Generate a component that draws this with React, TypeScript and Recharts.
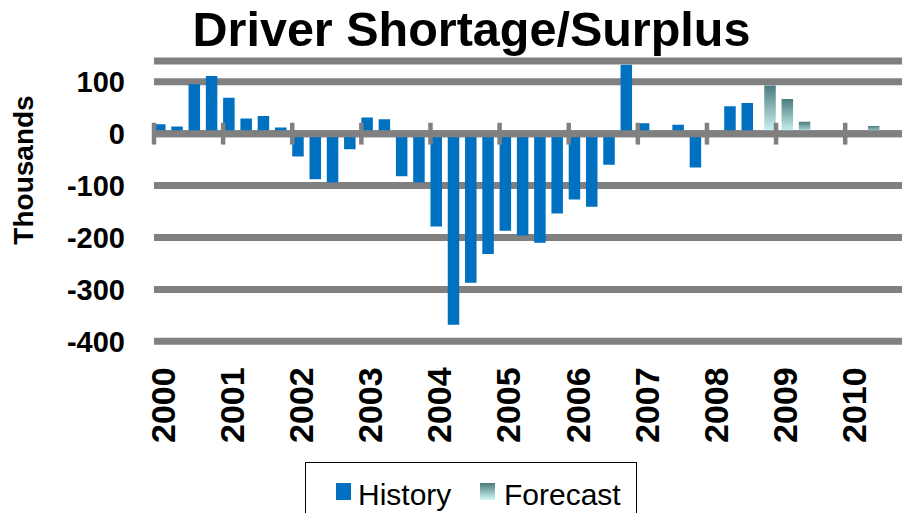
import { BarChart, Bar, XAxis, YAxis, CartesianGrid, ReferenceLine, Legend } from "recharts";

// quarterly categories, 2000 Q1 .. 2010 Q4
const quarters = [
  "2000 Q1", "2000 Q2", "2000 Q3", "2000 Q4",
  "2001 Q1", "2001 Q2", "2001 Q3", "2001 Q4",
  "2002 Q1", "2002 Q2", "2002 Q3", "2002 Q4",
  "2003 Q1", "2003 Q2", "2003 Q3", "2003 Q4",
  "2004 Q1", "2004 Q2", "2004 Q3", "2004 Q4",
  "2005 Q1", "2005 Q2", "2005 Q3", "2005 Q4",
  "2006 Q1", "2006 Q2", "2006 Q3", "2006 Q4",
  "2007 Q1", "2007 Q2", "2007 Q3", "2007 Q4",
  "2008 Q1", "2008 Q2", "2008 Q3", "2008 Q4",
  "2009 Q1", "2009 Q2", "2009 Q3", "2009 Q4",
  "2010 Q1", "2010 Q2", "2010 Q3", "2010 Q4",
];

// thousands of drivers
const historyValues = [
  18, 14, 95, 111,
  69, 29, 34, 12,
  -44, -88, -94, -30,
  31, 28, -82, -94,
  -179, -368, -287, -232,
  -187, -196, -210, -154,
  -127, -141, -60, 133,
  20, 3, 17, -65,
  3, 53, 59, null,
  null, null, null, null,
  null, null, null, null,
];

const forecastValues = [
  null, null, null, null,
  null, null, null, null,
  null, null, null, null,
  null, null, null, null,
  null, null, null, null,
  null, null, null, null,
  null, null, null, null,
  null, null, null, null,
  null, null, null, 93,
  67, 23, 3, 2,
  2, 15, null, null,
];

const seriesOrder = ["history", "forecast"];
const yTicks = [100, 0, -100, -200, -300, -400];
const yearStarts = quarters.filter((q) => q.endsWith("Q1"));

const data = quarters.map((q, i) => ({
  quarter: q,
  history: historyValues[i],
  forecast: forecastValues[i],
}));

const FONT = '"Liberation Sans", Arial, sans-serif';
const GRID = "#808080";

function YearTick({ x, y, payload }: any) {
  return (
    <text
      x={x}
      y={y}
      transform={`rotate(-90 ${x} ${y})`}
      textAnchor="end"
      dy="0.36em"
      fontFamily={FONT}
      fontWeight="bold"
      fontSize={34}
      fill="#000"
    >
      {String(payload.value).slice(0, 4)}
    </text>
  );
}

function LegendBox({ payload }: any) {
  const slots = [
    { mx: 30, tx: 52 },
    { mx: 174, tx: 198 },
  ];
  const items = [...(payload || [])].sort(
    (a: any, b: any) => seriesOrder.indexOf(a.dataKey) - seriesOrder.indexOf(b.dataKey)
  );
  return (
    <div
      style={{
        width: 332,
        height: 60,
        border: "1.5px solid #000",
        boxSizing: "border-box",
        background: "#fff",
      }}
    >
      <svg width={330} height={58} style={{ display: "block" }}>
        <defs>
          <linearGradient id="fcLegendGrad" x1="0" y1="0" x2="0" y2="1">
            <stop offset="0%" stopColor="#4b7b7d" />
            <stop offset="100%" stopColor="#d2fafa" />
          </linearGradient>
        </defs>
        {items.map((entry: any, i: number) => {
          const s = slots[i] || slots[0];
          const fill = entry.dataKey === "forecast" ? "url(#fcLegendGrad)" : "#0070c0";
          return (
            <g key={entry.value}>
              <rect x={s.mx} y={20} width={15} height={17} fill={fill} />
              <text x={s.tx} y={42} fontFamily={FONT} fontSize={30} fill="#000">
                {entry.value}
              </text>
            </g>
          );
        })}
      </svg>
    </div>
  );
}

export default function App() {
  return (
    <div style={{ position: "relative", width: 902, height: 505 }}>
      <div style={{ width: 902, height: 505, overflow: "hidden", background: "#fff" }}>
        <BarChart
          width={910}
          height={505}
          data={data}
          margin={{ top: 53, right: 3.7, bottom: 0, left: 0 }}
          barSize={11.5}
          barGap={-6}
        >
          <defs>
            <linearGradient id="fcGrad" x1="0" y1="0" x2="0" y2="1">
              <stop offset="0%" stopColor="#4b7b7d" />
              <stop offset="100%" stopColor="#d2fafa" />
            </linearGradient>
          </defs>
          <CartesianGrid vertical={false} stroke={GRID} strokeWidth={7} />
          <XAxis
            dataKey="quarter"
            interval={3}
            height={171.7}
            tickLine={false}
            axisLine={false}
            tickSize={0}
            tickMargin={26}
            tick={<YearTick />}
          />
          <YAxis
            width={146}
            domain={[-400, 140]}
            ticks={yTicks}
            allowDataOverflow
            tickLine={false}
            axisLine={false}
            tickSize={0}
            tickMargin={29}
            tick={{ fontFamily: FONT, fontWeight: "bold", fontSize: 29, fill: "#000" }}
          />
          <Legend
            layout="vertical"
            align="center"
            verticalAlign="middle"
            wrapperStyle={{ left: 297, top: 453.7, width: 332, height: 0 }}
            content={<LegendBox />}
          />
          <Bar dataKey="history" name="History" fill="#0070c0" isAnimationActive={false} />
          <Bar dataKey="forecast" name="Forecast" fill="url(#fcGrad)" isAnimationActive={false} />
          <ReferenceLine y={0} stroke={GRID} strokeWidth={7} zIndex={450} />
          {yearStarts.map((q) => (
            <ReferenceLine
              key={q}
              segment={[
                { x: q, y: -21 },
                { x: q, y: 21 },
              ]}
              position="start"
              stroke={GRID}
              strokeWidth={4.5}
              zIndex={460}
            />
          ))}
        </BarChart>
      </div>
      <svg
        width={910}
        height={200}
        style={{ position: "absolute", left: -8, top: -8, pointerEvents: "none", overflow: "visible" }}
      >
        <text
          x={471.5}
          y={46}
          textAnchor="middle"
          fontFamily={FONT}
          fontWeight="bold"
          fontSize={48.5}
          fill="#000"
        >
          Driver Shortage/Surplus
        </text>
        <text
          x={33}
          y={170}
          transform="rotate(-90 33 170)"
          textAnchor="middle"
          fontFamily={FONT}
          fontWeight="bold"
          fontSize={28}
          fill="#000"
        >
          Thousands
        </text>
      </svg>
    </div>
  );
}
